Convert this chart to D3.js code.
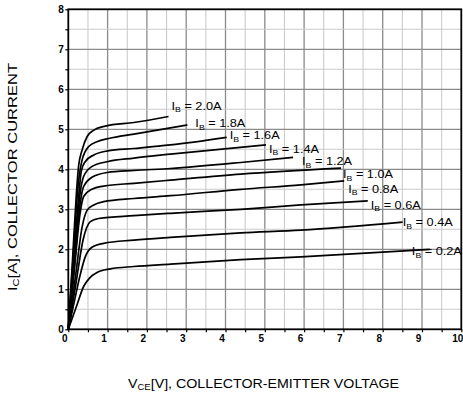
<!DOCTYPE html>
<html>
<head>
<meta charset="utf-8">
<script src="https://cdn.jsdelivr.net/npm/d3@7"></script>
<style>
  html, body { margin: 0; padding: 0; background: #fff; }
  svg { display: block; font-family: Arial, "Liberation Sans", Helvetica, sans-serif; }
</style>
</head>
<body>
<svg id="chart" width="463" height="396"></svg>
<script>
// Axis ticks
const vceTicks = [0, 1, 2, 3, 4, 5, 6, 7, 8, 9, 10];
const icTicks = [0, 1, 2, 3, 4, 5, 6, 7, 8];

// Base-current labels for each output curve
const baseCurrents = ["2.0", "1.8", "1.6", "1.4", "1.2", "1.0", "0.8", "0.6", "0.4", "0.2"];

// Output characteristics: [VCE (V), IC (A)]
const curveIB20 = [[0,0],[0.1,1.6],[0.2,3.3],[0.26,4.07],[0.35,4.48],[0.48,4.82],[0.65,4.98],[0.94,5.08],[1.67,5.17],[2.55,5.32]];
const curveIB18 = [[0,0],[0.12,1.75],[0.24,3.5],[0.35,4.23],[0.52,4.57],[0.73,4.69],[1.03,4.77],[1.67,4.88],[3.03,5.11]];
const curveIB16 = [[0,0],[0.14,1.75],[0.28,3.5],[0.33,3.95],[0.43,4.19],[0.65,4.36],[1.0,4.46],[1.67,4.52],[2.6,4.61],[4.03,4.80]];
const curveIB14 = [[0,0],[0.15,1.7],[0.3,3.4],[0.39,3.82],[0.6,4.07],[0.99,4.19],[1.67,4.28],[2.6,4.38],[5.03,4.61]];
const curveIB12 = [[0,0],[0.16,1.65],[0.31,3.2],[0.39,3.57],[0.6,3.8],[0.99,3.92],[1.67,3.97],[2.6,4.02],[4.39,4.17],[5.72,4.30]];
const curveIB10 = [[0,0],[0.15,1.45],[0.3,2.9],[0.39,3.32],[0.6,3.5],[0.9,3.58],[1.67,3.65],[2.6,3.73],[4.39,3.88],[6.94,4.03]];
const curveIB08 = [[0,0],[0.18,1.3],[0.35,2.55],[0.48,2.98],[0.65,3.11],[0.9,3.19],[1.67,3.27],[2.6,3.34],[4.39,3.50],[5.92,3.61],[7.02,3.71]];
const curveIB06 = [[0,0],[0.19,1.12],[0.38,2.25],[0.56,2.69],[0.77,2.77],[1.67,2.84],[2.6,2.90],[4.39,3.0],[5.92,3.11],[7.62,3.21]];
const curveIB04 = [[0,0],[0.15,0.68],[0.3,1.35],[0.42,1.78],[0.6,2.05],[0.9,2.15],[1.67,2.23],[2.6,2.30],[4.39,2.41],[5.92,2.48],[8.51,2.68]];
const curveIB02 = [[0,0],[0.2,0.55],[0.39,1.07],[0.54,1.28],[0.73,1.42],[1.07,1.51],[1.67,1.57],[2.6,1.63],[4.39,1.74],[5.92,1.81],[9.2,2.0]];

const curves = [curveIB20, curveIB18, curveIB16, curveIB14, curveIB12,
                curveIB10, curveIB08, curveIB06, curveIB04, curveIB02];

const svg = d3.select("#chart");

const x = d3.scaleLinear().domain([0, 10]).range([68.3, 461.3]);
const y = d3.scaleLinear().domain([0, 8]).range([329.3, 9.3]);

const halfX = d3.range(0, 10.001, 0.5);
const halfY = d3.range(0, 8.001, 0.5);
const isMajor = v => Math.abs(v - Math.round(v)) < 1e-6;

// Grid: light lines at half steps, darker lines at whole steps
const grid = svg.append("g");
grid.selectAll("line.gx")
  .data(halfX.filter(v => v > 0 && v < 10))
  .join("line")
  .attr("x1", d => x(d)).attr("x2", d => x(d))
  .attr("y1", y(0)).attr("y2", y(8))
  .attr("stroke", d => isMajor(d) ? "#8a8a8a" : "#cbcbcb")
  .attr("stroke-width", d => isMajor(d) ? 1.3 : 1.1);
grid.selectAll("line.gy")
  .data(halfY.filter(v => v > 0 && v < 8))
  .join("line")
  .attr("y1", d => y(d)).attr("y2", d => y(d))
  .attr("x1", x(0)).attr("x2", x(10))
  .attr("stroke", d => isMajor(d) ? "#8a8a8a" : "#cbcbcb")
  .attr("stroke-width", d => isMajor(d) ? 1.3 : 1.1);

// Frame
svg.append("rect")
  .attr("x", x(0)).attr("y", y(8))
  .attr("width", x(10) - x(0)).attr("height", y(0) - y(8))
  .attr("fill", "none").attr("stroke", "#000").attr("stroke-width", 1.8);

// Output curves
const line = d3.line()
  .x(d => x(d[0]))
  .y(d => y(d[1]))
  .curve(d3.curveMonotoneX);

svg.append("g").selectAll("path")
  .data(curves)
  .join("path")
  .attr("d", line)
  .attr("fill", "none")
  .attr("stroke", "#000")
  .attr("stroke-width", 1.7)
  .attr("stroke-linejoin", "round");

// Axes
const tickFont = g => g.selectAll("text")
  .attr("font-size", 10).attr("font-weight", "bold").attr("fill", "#000")
  .attr("font-family", "Arial, 'Liberation Sans', sans-serif");

const xAxis = svg.append("g")
  .attr("transform", `translate(0,${y(0)})`)
  .call(d3.axisBottom(x).tickValues(halfX).tickSize(3).tickSizeOuter(0)
    .tickFormat(d => vceTicks.includes(d) ? String(d) : ""));
xAxis.select(".domain").remove();
xAxis.selectAll(".tick line").attr("stroke", "#000").attr("stroke-width", 1.2);
xAxis.selectAll(".tick text").attr("dx", -4).attr("dy", "0.65em").attr("y", 6);
xAxis.call(tickFont);

const yAxis = svg.append("g")
  .attr("transform", `translate(${x(0)},0)`)
  .call(d3.axisLeft(y).tickValues(halfY).tickSize(3).tickSizeOuter(0)
    .tickFormat(d => icTicks.includes(d) ? String(d) : ""));
yAxis.select(".domain").remove();
yAxis.selectAll(".tick line").attr("stroke", "#000").attr("stroke-width", 1.2);
yAxis.selectAll(".tick text").attr("x", -4.5).attr("dy", "0.36em");
yAxis.call(tickFont);

// Curve labels placed just past the end of each curve
const labelOffsets = [[3,-7],[8,2.5],[3,2],[3,8],[9,8],[2,10],[4,12],[3,8],[0,4],[-18,6]];
const labels = svg.append("g").attr("font-size", 11).attr("fill", "#000");
curves.forEach((c, i) => {
  const end = c[c.length - 1];
  const t = labels.append("text")
    .attr("x", x(end[0]) + labelOffsets[i][0])
    .attr("y", y(end[1]) + labelOffsets[i][1])
    .attr("textLength", 50).attr("lengthAdjust", "spacingAndGlyphs");
  t.append("tspan").text("I");
  t.append("tspan").attr("font-size", 7.5).attr("dy", 2.5).text("B");
  t.append("tspan").attr("dy", -2.5).text(` = ${baseCurrents[i]}A`);
});

// Axis titles
const xt = svg.append("text")
  .attr("x", 128).attr("y", 388)
  .attr("font-size", 13.5).attr("fill", "#000")
  .attr("textLength", 271).attr("lengthAdjust", "spacingAndGlyphs");
xt.append("tspan").text("V");
xt.append("tspan").attr("font-size", 9).attr("dy", 1.5).text("CE");
xt.append("tspan").attr("dy", -1.5).text("[V], COLLECTOR-EMITTER VOLTAGE");

const yt = svg.append("text")
  .attr("transform", "translate(17,291) rotate(-90)")
  .attr("font-size", 13.5).attr("fill", "#000")
  .attr("textLength", 228).attr("lengthAdjust", "spacingAndGlyphs");
yt.append("tspan").text("I");
yt.append("tspan").attr("font-size", 9).attr("dy", 1.5).text("C");
yt.append("tspan").attr("dy", -1.5).text("[A], COLLECTOR CURRENT");
</script>
</body>
</html>
